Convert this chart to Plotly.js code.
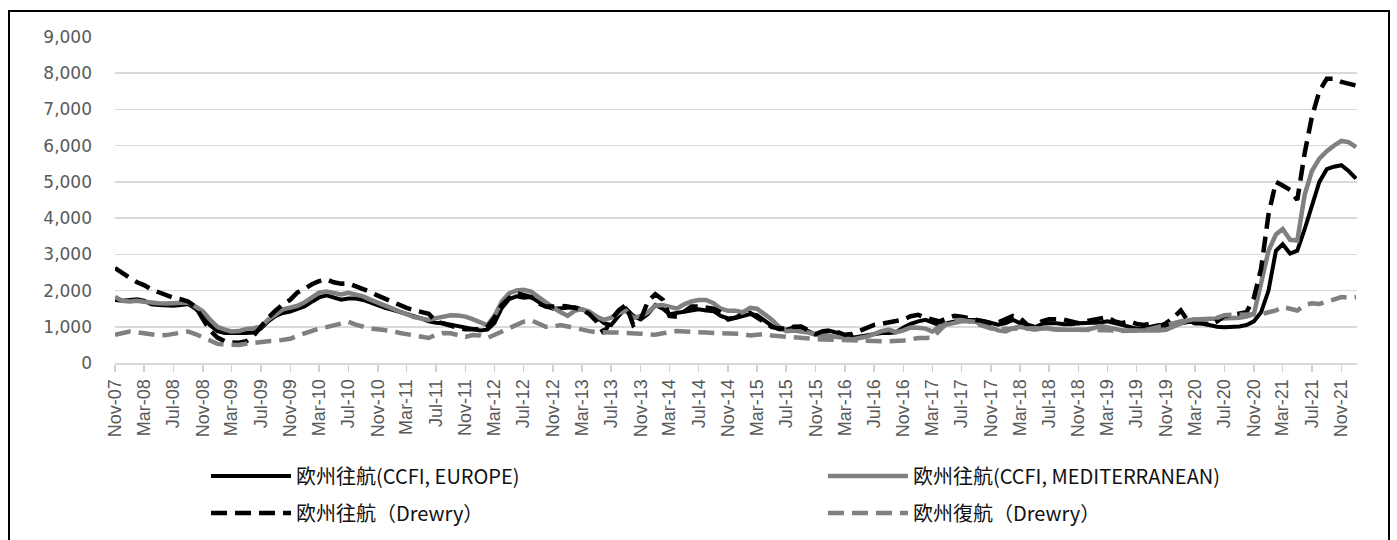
<!DOCTYPE html>
<html><head><meta charset="utf-8">
<script src="https://cdn.plot.ly/plotly-3.0.1.min.js"></script>
<style>
html,body{margin:0;padding:0;background:#fff;overflow:hidden;width:1397px;height:540px}
#chart{width:1397px;height:540px;position:absolute;left:0;top:0}
#frame{position:absolute;left:8px;top:10px;width:1382px;height:560px;border:2px solid #000;box-sizing:border-box;pointer-events:none}
</style></head><body>
<div id="chart"></div><div id="frame"></div>
<script>
// Monthly observations, Nov-2007 .. Jan-2022
const firstYear = 2007, firstMonth = 11, monthCount = 171;
const months = [];
for (let i = 0; i < monthCount; i++) {
  const t = firstYear * 12 + (firstMonth - 1) + i;
  const y = Math.floor(t / 12), m = t % 12 + 1;
  months.push(y + "-" + String(m).padStart(2, "0") + "-01");
}

const seriesNames = ["欧州往航(CCFI, EUROPE)", "欧州往航(CCFI, MEDITERRANEAN)", "欧州往航（Drewry）", "欧州復航（Drewry）"];

const ccfiEurope = [
1740,1720,1740,1760,1720,1620,1600,1590,1580,1600,
1630,1500,1300,1050,880,830,820,830,830,840,
950,1150,1300,1380,1420,1500,1570,1700,1810,1870,
1800,1750,1780,1780,1740,1660,1580,1520,1470,1410,
1360,1290,1230,1150,1110,1100,1060,1010,970,940,
900,920,1100,1520,1760,1840,1800,1820,1700,1560,
1500,1510,1530,1540,1480,1400,1280,1100,1050,1300,
1500,1300,1200,1350,1600,1500,1350,1380,1420,1450,
1480,1450,1430,1300,1230,1240,1300,1350,1320,1180,
1030,930,920,980,950,880,780,850,880,830,
740,700,730,760,800,830,830,850,980,1080,
1150,1190,1120,1040,1100,1150,1190,1190,1190,1160,
1100,1060,1100,1190,1100,1000,980,1080,1100,1100,
1070,1070,1100,1100,1100,1120,1150,1100,1050,980,
950,960,1000,1050,1020,1050,1100,1130,1130,1080,
1030,1000,990,1000,1010,1050,1150,1400,2000,3100,
3280,3020,3100,3700,4350,5000,5350,5420,5460,5300,5090];

const ccfiMed = [
1820,1720,1700,1720,1690,1660,1650,1640,1650,1670,
1670,1560,1430,1200,1000,920,870,880,940,960,
1000,1200,1350,1480,1530,1580,1680,1800,1940,1970,
1920,1890,1940,1900,1840,1750,1660,1580,1500,1420,
1350,1270,1230,1190,1240,1290,1320,1310,1280,1210,
1140,1040,1300,1700,1920,2000,2020,1970,1820,1660,
1530,1410,1300,1450,1480,1420,1280,1190,1250,1380,
1440,1240,1300,1400,1580,1600,1550,1500,1620,1700,
1740,1740,1650,1500,1440,1440,1400,1520,1500,1350,
1200,1000,880,900,880,840,780,760,720,730,
700,650,680,730,800,880,920,850,900,980,
970,950,870,1010,1060,1110,1150,1150,1130,1050,
960,900,870,960,1000,950,920,950,960,920,
920,920,920,920,960,1020,990,930,900,900,
910,910,900,900,920,1000,1100,1180,1200,1220,
1220,1220,1220,1230,1250,1280,1350,2200,3100,3550,
3700,3400,3380,4650,5300,5640,5850,6000,6130,6100,5960];

const drewryOut = [
2620,2480,2350,2230,2150,2030,1950,1870,1800,1760,
1700,1550,1200,900,700,600,570,560,600,750,
1000,1250,1450,1620,1750,1950,2050,2180,2260,2310,
2230,2190,2200,2130,2060,1960,1860,1770,1690,1600,
1520,1460,1420,1360,1150,1080,1030,970,930,920,
930,1000,1250,1600,1790,1930,1880,1820,1650,1560,
1560,1580,1560,1520,1480,1350,1150,820,1200,1450,
1600,1050,1200,1700,1900,1750,1300,1280,1420,1560,
1560,1540,1500,1400,1200,1250,1350,1380,1250,1120,
1000,950,950,1000,1010,900,800,880,900,850,
780,800,880,960,1050,1080,1120,1150,1200,1290,
1330,1250,1200,1150,1230,1300,1280,1230,1180,1130,
1100,1120,1200,1300,1250,1050,1000,1150,1210,1210,
1200,1150,1100,1150,1200,1250,1270,1150,1100,1150,
1080,1050,1100,1000,1100,1250,1450,1150,1100,1100,
1050,1150,1300,1330,1360,1400,1800,2600,4100,5000,
4900,4780,4500,5800,6800,7500,7850,7850,7760,7700,7660];

const drewryReturn = [
780,820,870,850,820,790,760,770,800,840,
870,800,700,600,530,510,500,500,530,560,
580,600,610,640,670,750,820,880,950,990,
1040,1100,1140,1060,1000,950,930,920,880,830,
800,760,720,690,780,830,820,760,720,770,
760,690,780,880,980,1080,1140,1180,1100,1000,
1000,1050,1010,960,920,880,850,830,840,840,
840,830,810,790,780,820,850,880,870,850,
850,840,830,830,830,830,800,760,780,800,
760,740,720,700,670,660,660,650,640,650,
650,640,620,610,600,600,600,600,620,650,
690,690,700,900,1100,1180,1190,1150,1080,1010,
950,940,950,960,960,960,960,950,930,920,
920,920,920,920,920,920,920,900,880,880,
900,900,950,1000,1050,1100,1150,1200,1200,1200,
1200,1250,1320,1330,1330,1320,1330,1350,1400,1450,
1550,1500,1450,1600,1650,1630,1700,1780,1820,1800,1820];

const dashPattern = "16px,8px";
const traces = [
  {x: months, y: ccfiEurope, name: seriesNames[0], type: "scatter", mode: "lines",
   line: {color: "#000000", width: 4}, legend: "legend"},
  {x: months, y: ccfiMed, name: seriesNames[1], type: "scatter", mode: "lines",
   line: {color: "#808080", width: 4.5}, legend: "legend2"},
  {x: months, y: drewryOut, name: seriesNames[2], type: "scatter", mode: "lines",
   line: {color: "#000000", width: 4.5, dash: dashPattern}, legend: "legend3"},
  {x: months, y: drewryReturn, name: seriesNames[3], type: "scatter", mode: "lines",
   line: {color: "#808080", width: 4.5, dash: dashPattern}, legend: "legend4"}
];

const legendFont = {family: "Noto Sans CJK JP, Noto Sans, sans-serif", size: 20, color: "#111111"};
function legendAt(x, y) {
  return {orientation: "h", x: x, xanchor: "left", y: y, yanchor: "middle",
    itemwidth: 80, font: legendFont, bgcolor: "rgba(0,0,0,0)", borderwidth: 0};
}

const layout = {
  width: 1397, height: 540,
  margin: {l: 115, r: 40, t: 37, b: 177, pad: 0, autoexpand: false},
  paper_bgcolor: "rgba(0,0,0,0)", plot_bgcolor: "#ffffff",
  showlegend: true,
  xaxis: {
    type: "date", range: ["2007-11-01", "2022-01-05"],
    tick0: "2007-11-01", dtick: "M4", tickformat: "%b-%y", tickangle: -90,
    ticks: "outside", ticklen: 7, tickwidth: 1.5, tickcolor: "#d0d0d0",
    showline: true, linecolor: "#d9d9d9", linewidth: 2,
    showgrid: false, zeroline: false, automargin: false,
    tickfont: {family: "Liberation Sans, Arial, sans-serif", size: 18, color: "#595959"}
  },
  yaxis: {
    range: [0, 9000], dtick: 1000, tick0: 0, tickformat: ",d",
    showgrid: true, gridcolor: "#d9d9d9", gridwidth: 1.5,
    zeroline: false, showline: false, ticks: "", automargin: false,
    ticklabelstandoff: 22,
    tickfont: {family: "DejaVu Sans, sans-serif", size: 17, color: "#595959"}
  },
  legend: legendAt(0.0733, -0.3466),
  legend2: legendAt(0.570, -0.3466),
  legend3: legendAt(0.0733, -0.460),
  legend4: legendAt(0.570, -0.460)
};

Plotly.newPlot("chart", traces, layout, {displayModeBar: false, staticPlot: true});
</script>
</body></html>
